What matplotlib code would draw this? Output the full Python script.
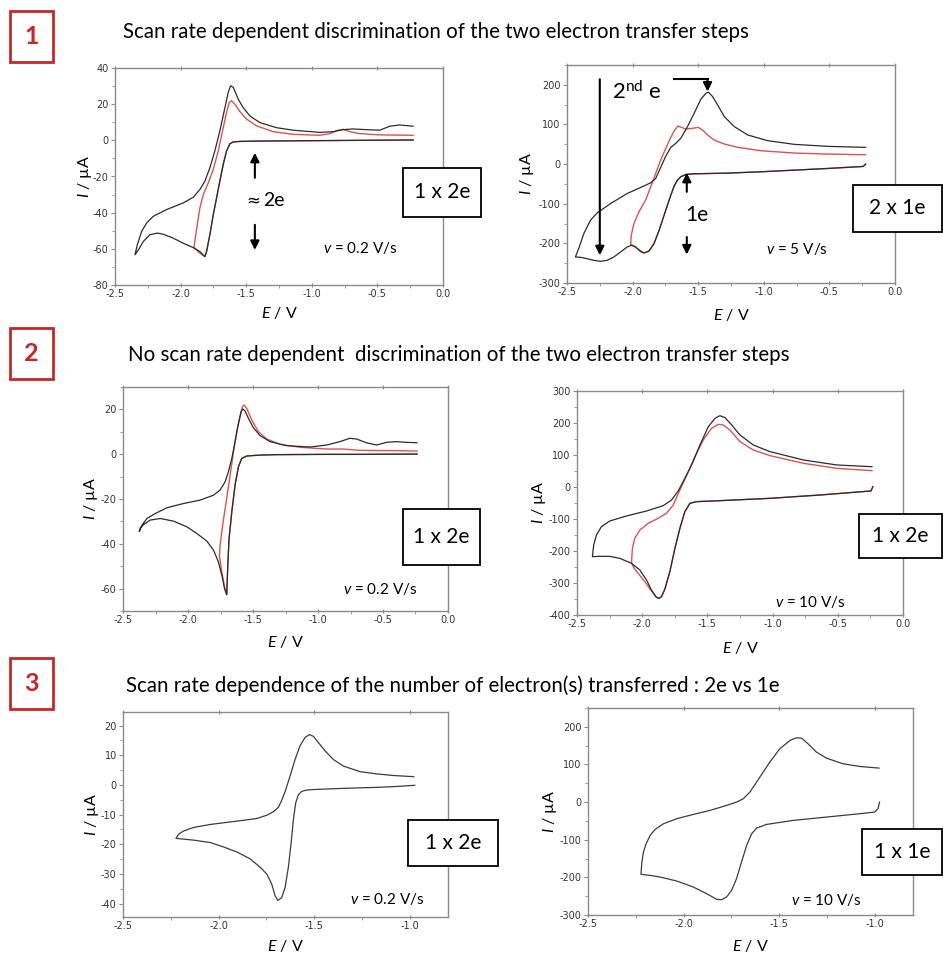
import matplotlib
matplotlib.use("Agg")
import matplotlib.pyplot as plt
from matplotlib.patches import Rectangle
from matplotlib.ticker import MultipleLocator, FormatStrFormatter

plt.rcParams['font.family'] = ['Lato', 'DejaVu Sans']
plt.rcParams['mathtext.fontset'] = 'custom'
plt.rcParams['mathtext.rm'] = 'Lato'
plt.rcParams['mathtext.it'] = 'Lato:italic'
plt.rcParams['axes.unicode_minus'] = False

# ---------------- data (E / V, I / uA) ----------------
# Panel 1 left (0.2 V/s)
p1a_fwd_E = [-0.228, -0.635, -1.015, -1.396, -1.548, -1.599, -1.624, -1.650, -1.675, -1.701, -1.726, -1.751, -1.777, -1.802, -1.815]
p1a_fwd_I = [0.2, 0.0, -0.2, -0.4, -0.6, -0.9, -1.9, -5.9, -13.3, -22.6, -31.9, -41.1, -52.2, -61.5, -64.3]
p1a_blk_E = [-1.853, -1.904, -1.980, -2.056, -2.132, -2.178, -2.234, -2.284, -2.322, -2.348,
             -2.330, -2.297, -2.259, -2.208, -2.107, -1.980, -1.904, -1.853, -1.815, -1.777, -1.739, -1.701,
             -1.662, -1.637, -1.619, -1.599, -1.561, -1.523, -1.472, -1.396, -1.269, -1.142, -0.939, -0.838,
             -0.761, -0.685, -0.584, -0.482, -0.406, -0.330, -0.228]
p1a_blk_I = [-61.5, -59.3, -56.9, -54.1, -51.9, -51.3, -52.2, -55.9, -60.6, -63.3,
             -57.8, -50.4, -45.7, -42.0, -38.3, -34.6, -31.5, -27.2, -22.6, -15.2, -5.9, 5.2,
             18.1, 26.5, 30.2, 29.3, 22.8, 18.1, 13.5, 9.8, 7.0, 5.6, 4.4, 4.8,
             5.9, 6.3, 5.9, 5.6, 7.8, 8.5, 7.8]
p1a_red_E = [-1.853, -1.898, -1.888, -1.873, -1.853, -1.827, -1.789, -1.751, -1.713, -1.675, -1.650, -1.629,
             -1.612, -1.586, -1.548, -1.497, -1.421, -1.294, -1.142, -0.939, -0.863, -0.799, -0.761, -0.711,
             -0.635, -0.482, -0.228]
p1a_red_I = [-62.4, -59.3, -54.1, -46.7, -37.4, -30.0, -23.5, -16.1, -5.9, 7.0, 15.4, 20.9,
             21.9, 20.0, 15.9, 11.7, 8.0, 4.8, 3.3, 2.8, 3.7, 5.6, 6.1, 4.8,
             3.7, 3.0, 2.8]

# Panel 1 right (5 V/s)
p1b_fwd_E = [-0.224, -0.242, -0.510, -0.765, -1.020, -1.276, -1.531, -1.594, -1.633, -1.658, -1.684, -1.722, -1.760, -1.798, -1.837, -1.875, -1.913]
p1b_fwd_I = [0.0, -5.9, -11.0, -15.2, -19.4, -22.8, -24.5, -26.1, -32.0, -40.5, -55.6, -91.1, -129.0, -167.0, -200.7, -219.2, -224.3]
p1b_blk_E = [-1.939, -1.977, -2.010, -2.041, -2.092, -2.143, -2.194, -2.245, -2.296, -2.347, -2.398, -2.436,
             -2.411, -2.372, -2.321, -2.270, -2.168, -2.041, -1.939, -1.862, -1.824, -1.786, -1.747, -1.709,
             -1.671, -1.633, -1.582, -1.531, -1.480, -1.441, -1.421, -1.390, -1.352, -1.301, -1.224, -1.122,
             -0.969, -0.765, -0.510, -0.224]
p1b_blk_I = [-220.9, -209.1, -204.9, -209.1, -221.8, -234.4, -242.8, -245.4, -242.8, -238.6, -235.2, -234.4,
             -213.3, -175.4, -141.7, -123.1, -99.5, -74.2, -59.0, -47.2, -36.3, -8.4, 20.2, 42.2,
             52.3, 64.9, 94.4, 128.2, 163.6, 178.8, 181.3, 170.3, 149.2, 119.7, 94.4, 73.4,
             59.0, 49.7, 44.7, 42.2]
p1b_red_E = [-1.952, -1.990, -2.015, -2.010, -1.990, -1.952, -1.901, -1.862, -1.824, -1.786, -1.747, -1.709,
             -1.679, -1.653, -1.628, -1.594, -1.543, -1.500, -1.467, -1.429, -1.378, -1.301, -1.199, -1.020,
             -0.765, -0.510, -0.224]
p1b_red_I = [-215.9, -206.6, -202.4, -179.6, -150.1, -120.6, -91.1, -57.3, -23.6, 10.1, 39.6, 67.5,
             86.0, 96.1, 92.7, 88.5, 90.2, 92.7, 86.0, 73.4, 60.7, 50.6, 42.2, 33.7,
             27.8, 25.3, 23.6]

# Panel 2 left (0.2 V/s)
p2a_fwd_E = [-0.238, -0.678, -0.934, -1.318, -1.446, -1.548, -1.587, -1.612, -1.638, -1.663, -1.684, -1.694, -1.702]
p2a_fwd_I = [0.07, -0.07, -0.07, -0.2, -0.4, -0.8, -1.9, -5.6, -13.8, -25.7, -37.6, -49.6, -62.7]
p2a_blk_E = [-1.720, -1.740, -1.766, -1.804, -1.855, -1.932, -2.009, -2.111, -2.213, -2.290, -2.341, -2.367, -2.375,
             -2.354, -2.316, -2.252, -2.162, -2.034, -1.906, -1.804, -1.753, -1.714, -1.689, -1.663, -1.638,
             -1.612, -1.592, -1.579, -1.561, -1.535, -1.497, -1.446, -1.369, -1.241, -1.062, -0.934, -0.832,
             -0.755, -0.704, -0.627, -0.550, -0.473, -0.397, -0.320, -0.238]
p2a_blk_I = [-59.7, -54.0, -48.1, -42.8, -38.8, -35.4, -32.4, -29.9, -28.7, -29.4, -31.4, -32.9, -34.6,
             -31.7, -28.7, -26.5, -23.9, -22.0, -20.5, -18.3, -16.0, -12.3, -7.8, -1.9, 5.6,
             13.8, 19.0, 20.2, 19.3, 16.0, 11.8, 8.3, 5.6, 3.8, 3.2, 4.1, 5.6,
             7.1, 6.8, 5.1, 4.1, 5.3, 5.6, 5.3, 5.1]
p2a_red_E = [-1.714, -1.740, -1.758, -1.753, -1.740, -1.722, -1.702, -1.676, -1.650, -1.625, -1.599, -1.581,
             -1.569, -1.548, -1.510, -1.459, -1.395, -1.292, -1.139, -0.934, -0.806, -0.678, -0.422, -0.238]
p2a_red_I = [-60.7, -52.5, -45.4, -40.6, -34.6, -27.2, -19.7, -9.3, 1.1, 10.1, 16.8, 21.2,
             22.0, 20.5, 15.3, 10.1, 6.8, 4.4, 3.1, 2.3, 2.3, 1.7, 1.6, 1.4]

# Panel 2 right (10 V/s)
p2b_fwd_E = [-0.231, -0.246, -0.379, -0.635, -1.019, -1.404, -1.583, -1.634, -1.673, -1.711, -1.749, -1.788, -1.826, -1.852, -1.870]
p2b_fwd_I = [1.0, -12.5, -16.7, -25.0, -35.4, -42.7, -45.8, -51.0, -77.1, -129.2, -191.7, -264.6, -318.8, -342.7, -347.9]
p2b_blk_E = [-1.895, -1.929, -1.967, -2.018, -2.082, -2.172, -2.249, -2.326, -2.382,
             -2.372, -2.351, -2.313, -2.249, -2.121, -1.967, -1.839, -1.775, -1.724, -1.673, -1.621, -1.557,
             -1.493, -1.442, -1.404, -1.365, -1.314, -1.250, -1.148, -1.019, -0.763, -0.507, -0.238]
p2b_blk_I = [-342.7, -321.9, -290.6, -259.4, -238.5, -222.9, -216.7, -216.7, -217.7,
             -181.3, -150.0, -124.0, -106.3, -90.6, -75.0, -58.3, -40.6, -12.5, 27.1, 68.8, 131.3,
             188.5, 214.6, 222.9, 216.7, 193.8, 162.5, 131.3, 110.4, 84.4, 68.8, 63.5]
p2b_red_E = [-1.890, -1.929, -1.980, -2.031, -2.065, -2.082, -2.075, -2.057, -2.018, -1.954, -1.878, -1.814,
             -1.762, -1.711, -1.660, -1.596, -1.532, -1.468, -1.417, -1.378, -1.327, -1.250, -1.148, -1.019,
             -0.763, -0.507, -0.238]
p2b_red_I = [-345.8, -325.0, -295.8, -269.8, -252.1, -235.4, -191.7, -160.4, -134.4, -113.5, -97.9, -82.3,
             -56.3, -9.4, 35.4, 94.8, 146.9, 183.3, 195.8, 193.8, 178.1, 141.7, 115.6, 97.9,
             74.0, 58.3, 51.0]

# Panel 3 left (0.2 V/s)
p3a_E = [-0.974, -1.087, -1.174, -1.348, -1.487, -1.539, -1.565, -1.583, -1.597, -1.609, -1.621, -1.635, -1.652,
         -1.670, -1.690, -1.704, -1.722, -1.748, -1.783, -1.835, -1.904, -1.974, -2.043, -2.130, -2.223,
         -2.209, -2.183, -2.130, -2.043, -1.957, -1.870, -1.800, -1.748, -1.713, -1.687, -1.670, -1.652,
         -1.626, -1.600, -1.574, -1.548, -1.525, -1.504, -1.478, -1.443, -1.400, -1.348, -1.261, -1.174,
         -1.087, -0.979]
p3a_I = [-0.11, -0.57, -0.8, -1.14, -1.48, -1.70, -2.16, -3.30, -6.14, -11.8, -19.8, -27.7, -34.5,
         -38.0, -38.9, -37.4, -33.4, -30.0, -27.7, -24.9, -22.6, -20.9, -19.4, -18.6, -18.0,
         -16.6, -15.5, -14.3, -13.3, -12.6, -11.9, -11.3, -10.2, -9.0, -7.5, -5.2, -2.2,
         3.0, 8.6, 13.2, 16.0, 17.0, 16.4, 14.3, 11.5, 8.6, 6.4, 4.5, 3.75,
         3.2, 2.8]

# Panel 3 right (10 V/s)
p3b_E = [-0.975, -0.983, -1.001, -1.079, -1.253, -1.427, -1.566, -1.618, -1.644, -1.670, -1.697, -1.723, -1.749,
         -1.775, -1.801, -1.827, -1.879, -1.949, -2.036, -2.123, -2.175, -2.223,
         -2.218, -2.210, -2.196, -2.175, -2.149, -2.105, -2.036, -1.949, -1.862, -1.775, -1.723, -1.688,
         -1.653, -1.601, -1.549, -1.497, -1.444, -1.410, -1.383, -1.349, -1.305, -1.253, -1.166, -1.079, -0.978]
p3b_I = [0.0, -17.7, -26.5, -31.0, -39.8, -48.7, -59.3, -69.0, -84.1, -115.0, -159.3, -203.5, -234.5,
         -252.2, -259.3, -258.4, -243.4, -225.7, -209.7, -199.1, -194.7, -192.0,
         -159.3, -132.7, -110.6, -88.5, -72.6, -57.5, -44.2, -32.7, -22.1, -8.8, 0.0, 8.8,
         26.5, 66.4, 106.2, 141.6, 163.7, 170.8, 169.9, 154.9, 132.7, 116.8, 101.8, 94.7, 90.3]

# ---------------- figure ----------------
W, H = 943, 955
fig = plt.figure(figsize=(W / 100, H / 100), dpi=100)

def rect(x1, y1, x2, y2):
    return [x1 / W, 1 - y2 / H, (x2 - x1) / W, (y2 - y1) / H]

BLK = '#2b2b2b'
RED = '#d9534f'
GRAY = '#3c3c3c'
SPINE = '#8a8a8a'

def style_ax(ax, xlim, ylim, ymaj, ymin, xlab_dist, ylab_dist, wpx, hpx):
    ax.set_xlim(*xlim)
    ax.set_ylim(*ylim)
    ax.xaxis.set_major_locator(MultipleLocator(0.5))
    ax.xaxis.set_minor_locator(MultipleLocator(0.25))
    ax.yaxis.set_major_locator(MultipleLocator(ymaj))
    ax.yaxis.set_minor_locator(MultipleLocator(ymin))
    ax.xaxis.set_major_formatter(FormatStrFormatter('%.1f'))
    ax.yaxis.set_major_formatter(FormatStrFormatter('%d'))
    for s in ax.spines.values():
        s.set_color(SPINE)
        s.set_linewidth(1.0)
    ax.tick_params(axis='both', which='both', direction='out', color=SPINE,
                   labelsize=7, labelcolor='#333333', labelfontfamily='DejaVu Sans', pad=1.5)
    ax.tick_params(axis='both', which='major', length=3, width=0.8)
    ax.tick_params(axis='both', which='minor', length=2, width=0.6)
    ax.tick_params(axis='x', which='major', top=True, direction='inout')
    ax.set_xlabel('$E$ / V', fontsize=11.5)
    ax.set_ylabel('$I$ / µA', fontsize=11.5)
    ax.xaxis.set_label_coords(0.5, -xlab_dist / hpx)
    ax.yaxis.set_label_coords(-ylab_dist / wpx, 0.5)
    ax.xaxis.label.set_va('center')
    ax.yaxis.label.set_va('center')

def arrow(ax, x0, y0, x1, y1):
    ax.annotate('', xy=(x1, y1), xytext=(x0, y0),
                arrowprops=dict(arrowstyle='-|>', color='black', lw=1.5,
                                mutation_scale=13, shrinkA=0, shrinkB=0))

VFS = 11

# --- panel 1a ---
ax = fig.add_axes(rect(115, 68, 443, 285))
ax.plot(p1a_fwd_E + p1a_red_E, p1a_fwd_I + p1a_red_I, color=RED, lw=1.0)
ax.plot(p1a_fwd_E + p1a_blk_E, p1a_fwd_I + p1a_blk_I, color=BLK, lw=0.9)
style_ax(ax, (-2.5, 0.0), (-80, 40), 20, 10, 28, 30, 328, 217)
arrow(ax, -1.434, -20.7, -1.434, -6.9)
arrow(ax, -1.434, -46.7, -1.434, -60.6)
ax.text(-1.50, -33.5, '≈', fontsize=12, va='center', ha='left', family='DejaVu Sans')
ax.text(-1.37, -33.5, '2e', fontsize=14, va='center', ha='left')
ax.text(-0.914, -59.3, '$v$ = 0.2 V/s', fontsize=VFS, va='center', ha='left')

# --- panel 1b ---
ax = fig.add_axes(rect(567, 65, 895, 283))
ax.plot(p1b_fwd_E + p1b_red_E, p1b_fwd_I + p1b_red_I, color=RED, lw=1.0)
ax.plot(p1b_fwd_E + p1b_blk_E, p1b_fwd_I + p1b_blk_I, color=BLK, lw=0.9)
style_ax(ax, (-2.5, 0.0), (-300, 250), 100, 50, 32, 40, 328, 218)
arrow(ax, -2.25, 214, -2.25, -230)
ax.plot([-1.684, -1.429], [214, 214], color='black', lw=1.5)
arrow(ax, -1.429, 214, -1.429, 183)
ax.text(-2.156, 183, '2$^{\\rm nd}$ e', fontsize=16, va='center', ha='left')
arrow(ax, -1.587, -70, -1.587, -22)
arrow(ax, -1.587, -184, -1.587, -228)
ax.text(-1.60, -129, '1e', fontsize=15, va='center', ha='left')
ax.text(-0.982, -213, '$v$ = 5 V/s', fontsize=VFS, va='center', ha='left')

# --- panel 2a ---
ax = fig.add_axes(rect(123, 387, 448, 611))
ax.plot(p2a_fwd_E + p2a_red_E, p2a_fwd_I + p2a_red_I, color=RED, lw=1.0)
ax.plot(p2a_fwd_E + p2a_blk_E, p2a_fwd_I + p2a_blk_I, color=BLK, lw=0.9)
style_ax(ax, (-2.5, 0.0), (-70, 30), 20, 10, 31, 32, 325, 224)
ax.text(-0.806, -60, '$v$ = 0.2 V/s', fontsize=VFS, va='center', ha='left')

# --- panel 2b ---
ax = fig.add_axes(rect(577, 391, 903, 615))
ax.plot(p2b_fwd_E + p2b_red_E, p2b_fwd_I + p2b_red_I, color=RED, lw=1.0)
ax.plot(p2b_fwd_E + p2b_blk_E, p2b_fwd_I + p2b_blk_I, color=BLK, lw=0.9)
style_ax(ax, (-2.5, 0.0), (-400, 300), 100, 50, 33, 38, 326, 224)
ax.text(-0.981, -358, '$v$ = 10 V/s', fontsize=VFS, va='center', ha='left')

# --- panel 3a ---
ax = fig.add_axes(rect(123, 712, 448, 917))
ax.plot(p3a_E, p3a_I, color=GRAY, lw=0.9)
style_ax(ax, (-2.5, -0.8), (-44.5, 24.6), 10, 5, 29, 31, 325, 205)
ax.text(-1.31, -38.5, '$v$ = 0.2 V/s', fontsize=VFS, va='center', ha='left')

# --- panel 3b ---
ax = fig.add_axes(rect(588, 708, 913, 915))
ax.plot(p3b_E, p3b_I, color=GRAY, lw=0.9)
style_ax(ax, (-2.5, -0.8), (-300, 250), 100, 50, 31, 38, 325, 207)
ax.text(-1.436, -261, '$v$ = 10 V/s', fontsize=VFS, va='center', ha='left')

# ---------------- figure-level decorations ----------------
def fx(x):
    return x / W

def fy(y):
    return 1 - y / H

def box(x1, y1, x2, y2, ec, lw):
    fig.patches.append(Rectangle((fx(x1), fy(y2)), fx(x2) - fx(x1), fy(y1) - fy(y2),
                                 transform=fig.transFigure, fill=True, fc='white',
                                 ec=ec, lw=lw, zorder=5))

# result boxes
for (x1, y1, x2, y2, txt) in [(403, 168, 481, 217, '1 x 2e'), (853, 185, 942, 232, '2 x 1e'),
                               (403, 509, 480, 565, '1 x 2e'), (859, 514, 942, 558, '1 x 2e'),
                               (408, 820, 498, 866, '1 x 2e'), (862, 829, 942, 875, '1 x 1e')]:
    box(x1, y1, x2, y2, 'black', 1.3)
    fig.text(fx((x1 + x2) / 2), fy((y1 + y2) / 2), txt, fontsize=15, ha='center', va='center', zorder=6)

# section numbers
RED_NUM = '#c62828'
for (y1, y2, num) in [(11, 62, '1'), (328, 379, '2'), (658, 709, '3')]:
    box(10, y1, 53, y2, RED_NUM, 2.0)
    fig.text(fx(31.5), fy((y1 + y2) / 2), num, fontsize=18, fontweight='bold', color=RED_NUM,
             ha='center', va='center', zorder=6)

# section titles
TFS = 14.8
fig.text(fx(123), fy(32), 'Scan rate dependent discrimination of the two electron transfer steps',
         fontsize=TFS, ha='left', va='center')
fig.text(fx(128), fy(355), 'No scan rate dependent  discrimination of the two electron transfer steps',
         fontsize=TFS, ha='left', va='center')
fig.text(fx(126), fy(686), 'Scan rate dependence of the number of electron(s) transferred : 2e vs 1e',
         fontsize=TFS, ha='left', va='center')

fig.savefig('out.png', dpi=100)
